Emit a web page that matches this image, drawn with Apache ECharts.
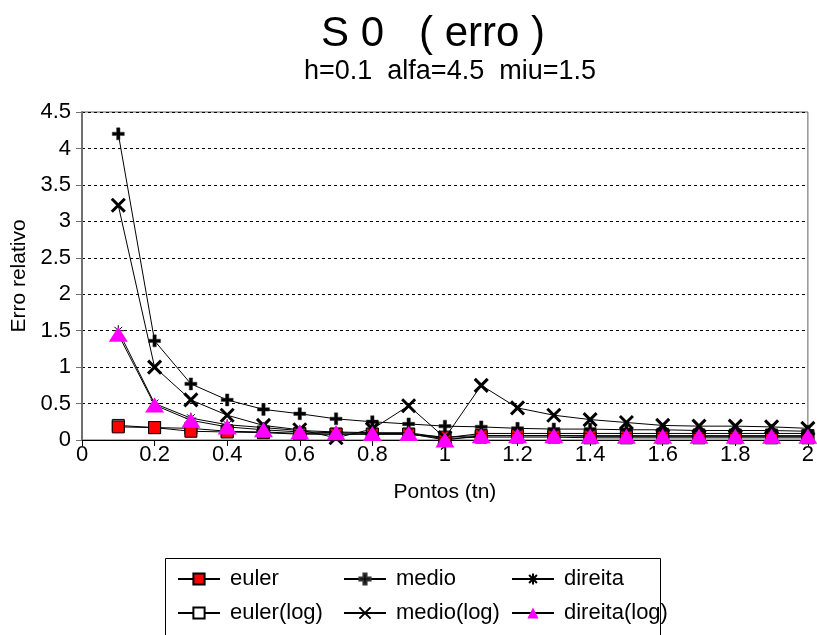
<!DOCTYPE html>
<html>
<head>
<meta charset="utf-8">
<script src="https://cdn.jsdelivr.net/npm/echarts@6/dist/echarts.min.js"></script>
<style>html,body{margin:0;padding:0;background:#fff}#c{width:817px;height:635px}</style>
</head>
<body>
<div id="c"></div>
<script>
const xValues = [0.1,0.2,0.3,0.4,0.5,0.6,0.7,0.8,0.9,1.0,1.1,1.2,1.3,1.4,1.5,1.6,1.7,1.8,1.9,2.0];
const euler     = [0.18,0.17,0.12,0.11,0.10,0.08,0.08,0.08,0.08,0.04,0.06,0.06,0.06,0.06,0.06,0.06,0.06,0.06,0.06,0.06];
const eulerLog  = [0.20,0.17,0.16,0.12,0.11,0.09,0.08,0.08,0.08,0.02,0.04,0.04,0.04,0.03,0.03,0.03,0.03,0.03,0.03,0.03];
const medio     = [4.20,1.36,0.77,0.55,0.42,0.36,0.29,0.25,0.22,0.19,0.18,0.16,0.15,0.15,0.14,0.14,0.13,0.13,0.13,0.12];
const medioLog  = [3.22,1.00,0.55,0.34,0.20,0.14,0.03,0.15,0.47,0.03,0.75,0.44,0.34,0.28,0.24,0.20,0.19,0.19,0.18,0.16];
const direita   = [1.50,0.50,0.30,0.21,0.17,0.13,0.11,0.10,0.10,0.03,0.09,0.09,0.09,0.09,0.09,0.09,0.09,0.09,0.09,0.09];
const direitaLog= [1.45,0.48,0.27,0.18,0.14,0.11,0.10,0.09,0.09,0.00,0.06,0.06,0.06,0.05,0.05,0.05,0.05,0.05,0.05,0.05];
const yTicks = {min:0, max:4.5, interval:0.5};
const xTicks = {min:0, max:2, interval:0.2};

const FONT = '"Liberation Sans", Arial, sans-serif';
const pairs = arr => xValues.map((x,i)=>[x,arr[i]]);
const PLUS = 'path://M3.6,0H6.4V3.6H10V6.4H6.4V10H3.6V6.4H0V3.6H3.6Z';
const CROSS = 'path://M0,0L10,10M10,0L0,10';
const STAR = 'path://M0,5L10,5M5,0L5,10M1.5,1.5L8.5,8.5M8.5,1.5L1.5,8.5';
const line = {color:'#000', width:1};

const seriesDefs = [
  {name:'euler(log)', data:eulerLog, symbol:'rect', symbolSize:12, itemStyle:{color:'#fff', borderColor:'#000', borderWidth:1}},
  {name:'euler', data:euler, symbol:'rect', symbolSize:12, itemStyle:{color:'#ff0000', borderColor:'#000', borderWidth:1}},
  {name:'medio', data:medio, symbol:PLUS, symbolSize:12, itemStyle:{color:'#000', borderColor:'#333', borderWidth:0.5}},
  {name:'direita', data:direita, symbol:STAR, symbolSize:11, itemStyle:{color:'none', borderColor:'#000', borderWidth:1}},
  {name:'medio(log)', data:medioLog, symbol:CROSS, symbolSize:13, itemStyle:{color:'none', borderColor:'#000', borderWidth:3}},
  {name:'direita(log)', data:direitaLog, symbol:'triangle', symbolSize:[19,15], itemStyle:{color:'#ff00ff', borderWidth:0}}
];

const legendPos = [
  {name:'euler', left:177, top:568},
  {name:'medio', left:343, top:568},
  {name:'direita', left:511, top:568},
  {name:'euler(log)', left:177, top:602},
  {name:'medio(log)', left:343, top:602},
  {name:'direita(log)', left:511, top:602}
];

const chart = echarts.init(document.getElementById('c'), null, {renderer:'canvas'});
chart.setOption({
  animation:false,
  backgroundColor:'#fff',
  title:[
    {text:'S 0   ( erro )', left:428, top:8, textAlign:'center', textStyle:{fontFamily:FONT, fontSize:42, fontWeight:'normal', color:'#000'}},
    {text:'h=0.1  alfa=4.5  miu=1.5', left:445, top:53, textAlign:'center', textStyle:{fontFamily:FONT, fontSize:27, fontWeight:'normal', color:'#000'}}
  ],
  grid:{left:82, right:6, top:112, bottom:195, show:true, borderColor:'#606060', borderWidth:1, backgroundColor:'transparent'},
  xAxis:{type:'value', min:xTicks.min, max:xTicks.max, interval:xTicks.interval,
    name:'Pontos (tn)', nameLocation:'middle', nameGap:42,
    nameTextStyle:{fontFamily:FONT, fontSize:21, color:'#000'},
    axisLine:{lineStyle:{color:'#000', width:1}},
    axisTick:{show:true, inside:false, length:6, lineStyle:{color:'#000'}},
    axisLabel:{fontFamily:FONT, fontSize:22, color:'#000', margin:4},
    splitLine:{show:false}},
  yAxis:{type:'value', min:yTicks.min, max:yTicks.max, interval:yTicks.interval,
    name:'Erro relativo', nameLocation:'middle', nameGap:52,
    nameTextStyle:{fontFamily:FONT, fontSize:21, color:'#000'},
    axisLine:{show:true, lineStyle:{color:'#707070', width:2}},
    axisTick:{show:true, inside:false, length:6, lineStyle:{color:'#707070'}},
    axisLabel:{fontFamily:FONT, fontSize:22, color:'#000', margin:11},
    splitLine:{show:true, lineStyle:{color:'#000', width:1, type:[3,3]}}},
  legend: legendPos.map(p=>({data:[p.name], left:p.left, top:p.top, itemWidth:42, itemHeight:14, padding:0,
    textStyle:{fontFamily:FONT, fontSize:22, color:'#000', padding:[0,0,0,5]}, selectedMode:false})),
  graphic:[{type:'rect', shape:{x:165.5, y:558.5, width:495, height:100}, style:{fill:'none', stroke:'#000', lineWidth:1}, z:-1}],
  series: seriesDefs.map(s=>({type:'line', name:s.name, data:pairs(s.data), symbol:s.symbol, symbolSize:s.symbolSize,
    showAllSymbol:true, lineStyle:line, itemStyle:s.itemStyle, clip:false}))
});
</script>
</body>
</html>
